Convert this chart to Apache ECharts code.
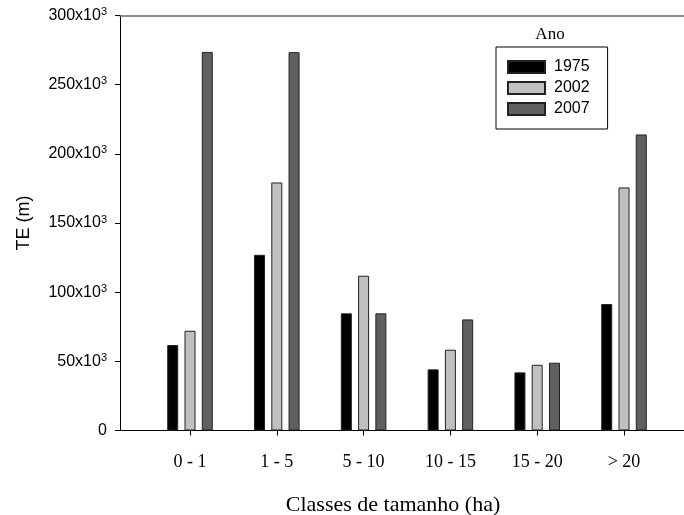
<!DOCTYPE html>
<html>
<head>
<meta charset="utf-8">
<script src="https://cdn.jsdelivr.net/npm/echarts@6/dist/echarts.min.js"></script>
<style>
  html, body { margin: 0; padding: 0; background: #fff; }
  #chart { width: 684px; height: 515px; }
</style>
</head>
<body>
<div id="chart"></div>
<script>
// Classes de tamanho vs TE (m), three survey years
const categories = ['0 - 1', '1 - 5', '5 - 10', '10 - 15', '15 - 20', '> 20'];
const years = ['1975', '2002', '2007'];
const te1975 = [61800, 127000, 84700, 44200, 42000, 91400];
const te2002 = [72100, 179300, 111900, 58400, 47500, 175700];
const te2007 = [273700, 273500, 84700, 80300, 49000, 214000];
const yTicks = [0, 50000, 100000, 150000, 200000, 250000, 300000];

const fills = ['#000000', '#c0c0c0', '#606060'];
const sans = 'Liberation Sans, Arial, sans-serif';
const serif = 'Liberation Serif, Times New Roman, serif';

const chart = echarts.init(document.getElementById('chart'));

function yLabel(v) {
    if (v === 0) return '{b|0}';
    return '{b|' + (v / 1000) + 'x10}{s|3}';
}

const seriesData = [te1975, te2002, te2007];

const option = {
    backgroundColor: '#fff',
    animation: false,
    title: [
        {
            text: 'Classes de tamanho (ha)',
            left: 393,
            top: 494,
            textAlign: 'center',
            padding: 0,
            textStyle: { fontFamily: serif, fontSize: 22, fontWeight: 'normal', color: '#000' }
        },
        {
            text: 'Ano',
            left: 550,
            top: 26,
            textAlign: 'center',
            padding: 0,
            textStyle: { fontFamily: serif, fontSize: 17, fontWeight: 'normal', color: '#000' }
        }
    ],
    legend: {
        orient: 'vertical',
        left: 496,
        top: 47,
        padding: [12, 18, 12, 11],
        borderColor: '#000',
        borderWidth: 1,
        itemWidth: 37,
        itemHeight: 12,
        itemGap: 5,
        icon: 'rect',
        data: years,
        textStyle: { fontFamily: sans, fontSize: 16, color: '#000', padding: [0, 0, 0, 4] }
    },
    grid: [
        { left: 146.6, right: 16.6, top: 15.5, bottom: 84.5 },
        { left: 120, right: 0, top: 15.5, bottom: 84.5 }
    ],
    xAxis: [
        {
            type: 'category',
            gridIndex: 0,
            data: categories,
            axisLine: { show: false },
            axisTick: { show: true, alignWithLabel: true, length: 5, lineStyle: { color: '#000' } },
            axisLabel: { margin: 23, fontFamily: serif, fontSize: 18, color: '#000' }
        },
        {
            type: 'value',
            gridIndex: 1,
            position: 'bottom',
            min: 0, max: 1,
            axisLine: { show: true, lineStyle: { color: '#000', width: 1 } },
            axisTick: { show: false },
            axisLabel: { show: false },
            splitLine: { show: false }
        },
        {
            type: 'value',
            gridIndex: 1,
            position: 'top',
            min: 0, max: 1,
            axisLine: { show: true, lineStyle: { color: '#666', width: 1.5 } },
            axisTick: { show: false },
            axisLabel: { show: false },
            splitLine: { show: false }
        }
    ],
    yAxis: [
        {
            type: 'value',
            gridIndex: 0,
            min: 0, max: 300000,
            show: false
        },
        {
            type: 'value',
            gridIndex: 1,
            min: 0, max: 300000, interval: 50000,
            name: 'TE (m)',
            nameLocation: 'middle',
            nameGap: 87,
            nameTextStyle: { fontFamily: sans, fontSize: 18, color: '#000' },
            axisLine: { show: true, lineStyle: { color: '#000', width: 1 } },
            axisTick: { show: true, length: 5, lineStyle: { color: '#000' } },
            splitLine: { show: false },
            axisLabel: {
                margin: 13,
                formatter: function (v) { return yTicks.indexOf(v) >= 0 ? yLabel(v) : ''; },
                rich: {
                    b: { fontFamily: sans, fontSize: 16, color: '#000', lineHeight: 18 },
                    s: { fontFamily: sans, fontSize: 11, color: '#000', lineHeight: 18, verticalAlign: 'top', padding: [0, 0, 6, 0] }
                }
            }
        }
    ],
    series: years.map(function (y, i) {
        return {
            name: y,
            type: 'bar',
            xAxisIndex: 0,
            yAxisIndex: 0,
            data: seriesData[i],
            barWidth: 11,
            barGap: '57%',
            itemStyle: { color: fills[i], borderColor: '#222', borderWidth: 1 }
        };
    })
};

chart.setOption(option);
</script>
</body>
</html>
